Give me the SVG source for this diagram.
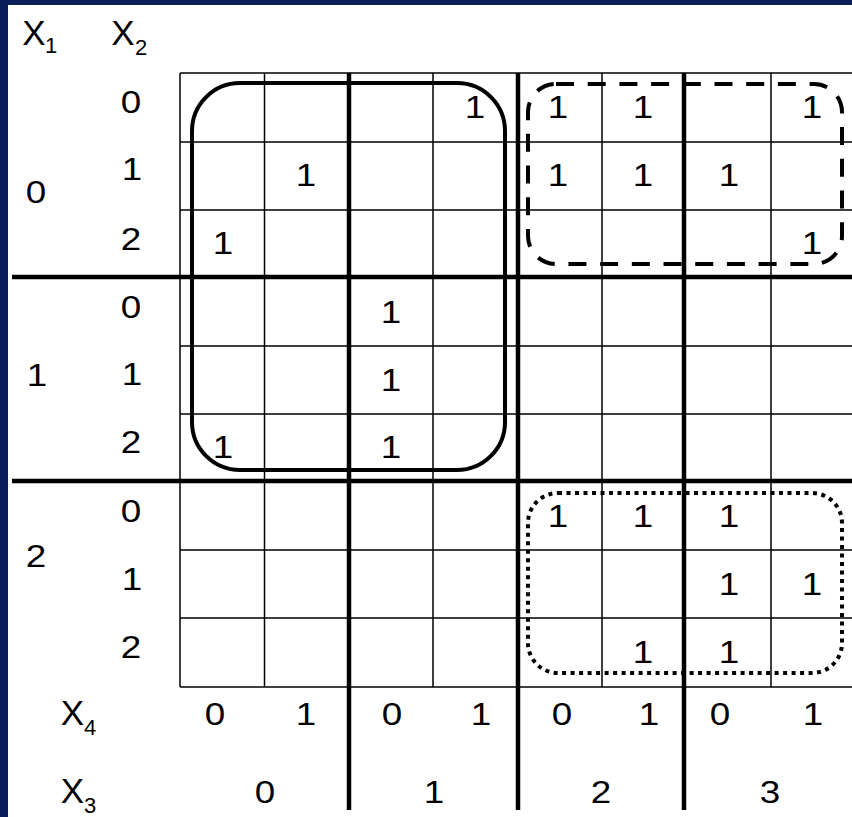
<svg xmlns="http://www.w3.org/2000/svg" width="852" height="817" viewBox="0 0 852 817">
<style>
.t{font-family:"Liberation Sans",Arial,sans-serif;font-size:32px;fill:#000;text-anchor:middle}
.x{font-family:"Liberation Sans",Arial,sans-serif;font-size:35px;fill:#000;text-anchor:middle}
.s{font-family:"Liberation Sans",Arial,sans-serif;font-size:22px;fill:#000;text-anchor:middle}
.thin{stroke:#000;stroke-width:1.5;fill:none}
.thick{stroke:#000;stroke-width:4.5;fill:none}
</style>
<rect x="0" y="0" width="852" height="817" fill="#ffffff"/>
<rect x="0" y="0" width="8" height="817" fill="#0a1e5a"/>
<rect x="0" y="0" width="852" height="5" fill="#0a1e5a"/>
<g id="grid">
<path class="thin" d="M180,73H852M180,142H852M180,210H852M180,346H852M180,414H852M180,550H852M180,618H852M180,687H852M180,73V687M264.5,73V687M433,73V687M602,73V687M771,73V687"/>
<path class="thick" d="M12,277H852M12,481H852M349,73V810M518,73V810M684,73V810"/>
</g>
<g id="groups">
<rect x="192" y="83" width="313" height="387" rx="48" ry="48" fill="none" stroke="#000" stroke-width="4"/>
<rect x="528" y="84" width="314" height="180" rx="28" ry="28" fill="none" stroke="#000" stroke-width="4" stroke-dasharray="18 13.7"/>
<rect x="528" y="493" width="314" height="180" rx="30" ry="30" fill="none" stroke="#000" stroke-width="4" stroke-dasharray="4 4.5"/>
</g>
<g id="headers">
<text class="x" x="34" y="45">X</text><text class="s" x="51" y="53">1</text>
<text class="x" x="123" y="45">X</text><text class="s" x="141" y="55">2</text>
<text class="x" x="72.5" y="725">X</text><text class="s" x="90" y="735">4</text>
<text class="x" x="72.5" y="803">X</text><text class="s" x="90" y="813">3</text>
</g>
<g id="x1-labels">
<text class="t" transform="translate(36,203) scale(1.15,1)">0</text>
<text class="t" transform="translate(37,386) scale(1.15,1)">1</text>
<text class="t" transform="translate(36,567) scale(1.15,1)">2</text>
</g>
<g id="x2-labels">
<text class="t" transform="translate(131,113) scale(1.15,1)">0</text>
<text class="t" transform="translate(132,180) scale(1.15,1)">1</text>
<text class="t" transform="translate(131,250) scale(1.15,1)">2</text>
<text class="t" transform="translate(131,318) scale(1.15,1)">0</text>
<text class="t" transform="translate(132,385) scale(1.15,1)">1</text>
<text class="t" transform="translate(131,453) scale(1.15,1)">2</text>
<text class="t" transform="translate(131,522) scale(1.15,1)">0</text>
<text class="t" transform="translate(132,590) scale(1.15,1)">1</text>
<text class="t" transform="translate(131,658) scale(1.15,1)">2</text>
</g>
<g id="x4-labels">
<text class="t" transform="translate(215,725) scale(1.15,1)">0</text>
<text class="t" transform="translate(306,725) scale(1.15,1)">1</text>
<text class="t" transform="translate(392,725) scale(1.15,1)">0</text>
<text class="t" transform="translate(481,725) scale(1.15,1)">1</text>
<text class="t" transform="translate(562,725) scale(1.15,1)">0</text>
<text class="t" transform="translate(649,725) scale(1.15,1)">1</text>
<text class="t" transform="translate(720,725) scale(1.15,1)">0</text>
<text class="t" transform="translate(813,725) scale(1.15,1)">1</text>
</g>
<g id="x3-labels">
<text class="t" transform="translate(265,803) scale(1.15,1)">0</text>
<text class="t" transform="translate(434,803) scale(1.15,1)">1</text>
<text class="t" transform="translate(601,803) scale(1.15,1)">2</text>
<text class="t" transform="translate(770,803) scale(1.15,1)">3</text>
</g>
<g id="cells">
<text class="t" transform="translate(475,118) scale(1.15,1)">1</text>
<text class="t" transform="translate(558,118) scale(1.15,1)">1</text>
<text class="t" transform="translate(643,118) scale(1.15,1)">1</text>
<text class="t" transform="translate(812,118) scale(1.15,1)">1</text>
<text class="t" transform="translate(306,186) scale(1.15,1)">1</text>
<text class="t" transform="translate(558,186) scale(1.15,1)">1</text>
<text class="t" transform="translate(643,186) scale(1.15,1)">1</text>
<text class="t" transform="translate(729,186) scale(1.15,1)">1</text>
<text class="t" transform="translate(223,254) scale(1.15,1)">1</text>
<text class="t" transform="translate(812,254) scale(1.15,1)">1</text>
<text class="t" transform="translate(391,323) scale(1.15,1)">1</text>
<text class="t" transform="translate(391,391) scale(1.15,1)">1</text>
<text class="t" transform="translate(223,458) scale(1.15,1)">1</text>
<text class="t" transform="translate(391,458) scale(1.15,1)">1</text>
<text class="t" transform="translate(558,527) scale(1.15,1)">1</text>
<text class="t" transform="translate(643,527) scale(1.15,1)">1</text>
<text class="t" transform="translate(729,527) scale(1.15,1)">1</text>
<text class="t" transform="translate(729,595) scale(1.15,1)">1</text>
<text class="t" transform="translate(812,595) scale(1.15,1)">1</text>
<text class="t" transform="translate(643,663) scale(1.15,1)">1</text>
<text class="t" transform="translate(729,663) scale(1.15,1)">1</text>
</g>
</svg>
